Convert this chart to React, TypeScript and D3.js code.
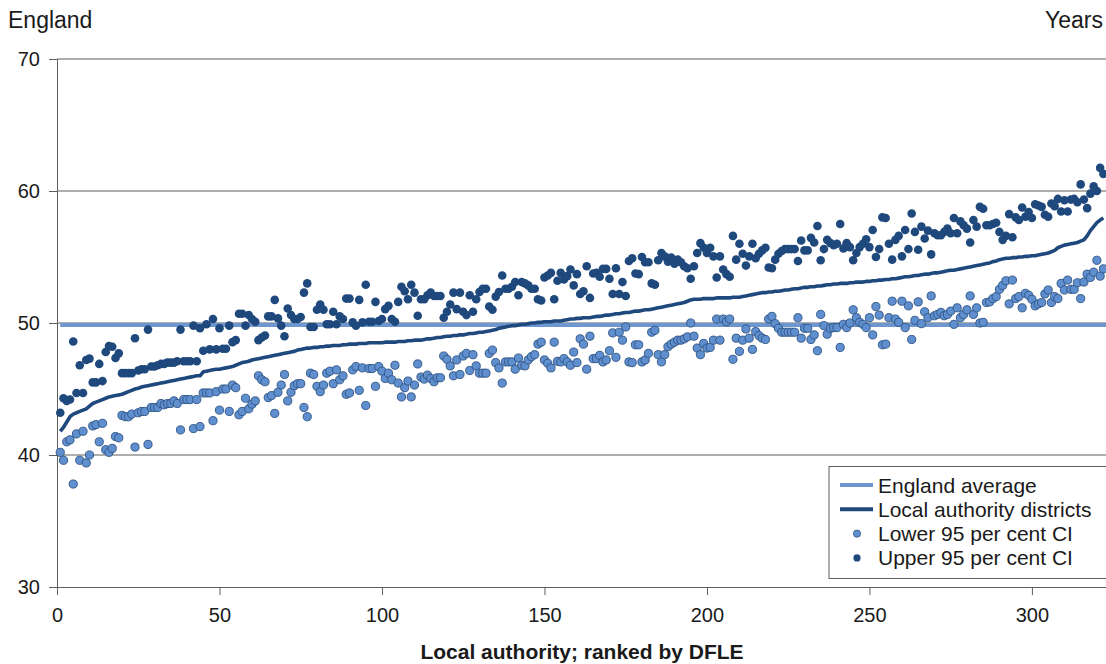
import { useRef, useEffect } from "react";
import * as d3 from "d3";

// DFLE by local authority, ranked
const districts: number[] = [
  41.8, 42.1, 42.5, 42.9, 43.1, 43.2, 43.3, 43.4, 43.5, 43.7,
  43.9, 44.0, 44.1, 44.2, 44.3, 44.4, 44.45, 44.5, 44.55, 44.6,
  44.7, 44.8, 44.9, 45.0, 45.05, 45.15, 45.2, 45.25, 45.3, 45.35,
  45.4, 45.45, 45.5, 45.55, 45.6, 45.65, 45.7, 45.75, 45.8, 45.85,
  45.9, 45.95, 46.0, 46.0, 46.3, 46.35, 46.4, 46.45, 46.5, 46.5,
  46.55, 46.6, 46.65, 46.7, 46.8, 46.9, 47.0, 47.05, 47.1, 47.2,
  47.25, 47.3, 47.35, 47.4, 47.45, 47.5, 47.55, 47.6, 47.65, 47.7,
  47.75, 47.8, 47.85, 47.95, 48.0, 48.05, 48.1, 48.1, 48.15, 48.15,
  48.2, 48.2, 48.25, 48.25, 48.3, 48.3, 48.3, 48.35, 48.35, 48.4,
  48.4, 48.4, 48.45, 48.45, 48.45, 48.5, 48.5, 48.5, 48.5, 48.5,
  48.55, 48.55, 48.55, 48.55, 48.6, 48.6, 48.6, 48.65, 48.65, 48.7,
  48.7, 48.7, 48.75, 48.8, 48.8, 48.85, 48.9, 48.9, 48.95, 49.0,
  49.0, 49.05, 49.05, 49.1, 49.1, 49.15, 49.2, 49.2, 49.25, 49.3,
  49.3, 49.35, 49.4, 49.45, 49.5, 49.6, 49.65, 49.7, 49.75, 49.8,
  49.8, 49.85, 49.9, 49.9, 49.95, 50.0, 50.0, 50.05, 50.05, 50.1,
  50.1, 50.1, 50.15, 50.15, 50.15, 50.2, 50.25, 50.3, 50.3, 50.35,
  50.35, 50.4, 50.4, 50.4, 50.45, 50.5, 50.5, 50.55, 50.6, 50.6,
  50.65, 50.7, 50.7, 50.75, 50.8, 50.8, 50.85, 50.9, 50.9, 50.95,
  51.0, 51.0, 51.05, 51.1, 51.15, 51.2, 51.25, 51.3, 51.35, 51.4,
  51.45, 51.5, 51.55, 51.65, 51.75, 51.8, 51.8, 51.8, 51.85, 51.85,
  51.85, 51.85, 51.9, 51.9, 51.9, 51.9, 51.9, 51.95, 51.95, 51.95,
  52.0, 52.05, 52.1, 52.15, 52.2, 52.25, 52.3, 52.3, 52.35, 52.35,
  52.4, 52.4, 52.45, 52.5, 52.5, 52.55, 52.6, 52.6, 52.65, 52.7,
  52.7, 52.75, 52.75, 52.8, 52.8, 52.85, 52.9, 52.9, 52.95, 52.95,
  53.0, 53.0, 53.0, 53.05, 53.05, 53.1, 53.1, 53.1, 53.15, 53.15,
  53.2, 53.2, 53.25, 53.25, 53.3, 53.3, 53.35, 53.35, 53.4, 53.45,
  53.5, 53.5, 53.55, 53.6, 53.6, 53.65, 53.7, 53.7, 53.75, 53.8,
  53.8, 53.85, 53.9, 53.95, 54.0, 54.0, 54.05, 54.1, 54.15, 54.2,
  54.25, 54.3, 54.35, 54.4, 54.45, 54.5, 54.55, 54.65, 54.7, 54.8,
  54.85, 54.9, 54.9, 54.95, 54.95, 55.0, 55.0, 55.05, 55.05, 55.1,
  55.1, 55.15, 55.2, 55.25, 55.3, 55.4, 55.5, 55.7, 55.8, 55.9,
  55.95, 56.0, 56.05, 56.1, 56.2, 56.3, 56.6, 57.0, 57.3, 57.6,
  57.8, 57.95,
];

const lowerCI: number[] = [
  40.2, 39.6, 41.0, 41.15, 37.8, 41.6, 39.6, 41.8, 39.4, 40.0,
  42.2, 42.3, 41.0, 42.4, 40.4, 40.2, 40.5, 41.4, 41.3, 43.0,
  42.9, 42.9, 43.1, 40.6, 43.2, 43.3, 43.3, 40.8, 43.6, 43.6,
  43.6, 43.9, 43.8, 43.9, 43.9, 44.1, 43.9, 41.9, 44.2, 44.2,
  44.2, 42.0, 44.2, 42.15, 44.7, 44.7, 44.7, 42.6, 44.8, 43.4,
  45.0, 45.0, 43.3, 45.3, 45.1, 43.05, 43.3, 44.3, 43.5, 43.85,
  44.1, 46.0, 45.7, 45.55, 44.35, 44.5, 43.15, 44.75, 45.3, 46.1,
  44.1, 44.75, 45.25, 45.4, 45.4, 43.6, 42.9, 46.2, 46.1, 45.2,
  44.8, 45.3, 46.2, 46.35, 45.4, 46.45, 45.7, 46.0, 44.6, 44.7,
  46.45, 46.7, 44.9, 46.6, 43.75, 46.55, 46.55, 45.2, 46.7, 46.35,
  45.8, 46.2, 45.7, 46.8, 45.45, 44.4, 45.1, 45.6, 44.4, 45.3,
  46.9, 45.9, 45.75, 46.05, 45.8, 45.55, 45.85, 45.85, 47.5, 47.25,
  46.75, 46.0, 47.2, 46.1, 47.5, 47.7, 46.4, 47.6, 46.75, 46.2,
  46.2, 46.2, 47.7, 47.95, 47.0, 46.6, 45.45, 47.05, 47.05, 47.05,
  46.5, 47.35, 46.8, 46.75, 47.2, 47.45, 47.6, 48.4, 48.55, 47.2,
  46.95, 46.6, 48.55, 47.1, 47.05, 47.3, 47.05, 46.8, 47.8, 47.0,
  48.8, 48.4, 46.5, 49.0, 47.3, 47.3, 47.55, 47.05, 47.2, 47.9,
  49.25, 47.4, 49.3, 48.7, 49.7, 47.05, 47.0, 48.35, 48.35, 47.05,
  47.2, 47.7, 49.3, 49.45, 47.6, 47.05, 47.6, 48.2, 48.4, 48.55,
  48.7, 48.7, 48.8, 48.95, 50.0, 49.0, 48.1, 47.6, 48.45, 48.1,
  48.15, 48.7, 50.3, 48.7, 50.3, 50.1, 50.3, 47.25, 48.85, 47.85,
  48.7, 49.55, 48.85, 48.0, 49.35, 49.05, 48.85, 48.75, 50.3, 50.5,
  49.95, 49.6, 49.3, 49.3, 49.3, 49.3, 49.3, 50.4, 48.85, 49.6,
  49.6, 48.75, 49.1, 47.9, 50.65, 49.8, 49.15, 49.6, 49.65, 49.65,
  48.15, 49.9, 49.65, 50.0, 51.0, 50.4, 50.05, 49.9, 49.65, 50.4,
  49.1, 51.25, 50.6, 48.35, 48.4, 50.4, 51.65, 50.3, 50.05, 51.65,
  49.65, 51.3, 48.75, 50.2, 51.6, 49.95, 50.85, 50.4, 52.05, 50.55,
  50.65, 50.8, 50.55, 50.65, 50.9, 49.9, 51.15, 50.4, 50.65, 51.0,
  52.05, 50.65, 51.15, 50.0, 50.05, 51.55, 51.6, 51.85, 52.0, 52.55,
  52.85, 53.2, 51.45, 53.25, 51.85, 52.0, 51.15, 52.25, 52.1, 51.8,
  51.3, 51.45, 51.55, 52.2, 52.5, 51.55, 52.0, 51.85, 53.0, 52.5,
  53.25, 52.55, 52.55, 53.05, 51.85, 53.1, 53.7, 53.45, 53.85, 54.75,
  53.55, 54.1,
];

const upperCI: number[] = [
  43.2, 44.3, 44.1, 44.2, 48.6, 44.7, 46.8, 44.7, 47.2, 47.3,
  45.5, 45.5, 46.9, 45.6, 47.8, 48.25, 48.2, 47.35, 47.7, 46.2,
  46.2, 46.2, 46.2, 48.85, 46.4, 46.5, 46.5, 49.5, 46.7, 46.7,
  46.8, 46.9, 46.9, 47.0, 47.0, 47.0, 47.1, 49.5, 47.1, 47.1,
  47.1, 49.8, 47.1, 49.6, 47.9, 49.9, 48.0, 50.3, 48.0, 49.6,
  48.05, 48.05, 49.8, 48.55, 48.7, 50.7, 50.7, 49.8, 50.6, 50.3,
  50.1, 48.7, 48.9, 49.05, 50.5, 50.5, 51.75, 50.35, 49.8, 49.0,
  51.1, 50.6, 50.3, 50.3, 50.45, 52.3, 53.0, 49.7, 49.7, 51.0,
  51.4, 51.0, 49.9, 49.9, 50.85, 49.9, 50.5, 50.3, 51.85, 51.85,
  50.05, 49.8, 51.75, 50.05, 52.9, 50.1, 50.1, 51.6, 50.15, 50.3,
  51.05, 51.3, 50.3, 50.1, 51.6, 52.75, 52.4, 51.8, 52.9, 52.3,
  50.55, 51.8, 51.8, 52.1, 52.3, 52.05, 52.05, 52.05, 50.4, 50.85,
  51.4, 52.3, 51.05, 52.3, 50.85, 50.6, 52.1, 50.85, 51.8, 52.35,
  52.6, 52.6, 51.25, 51.0, 52.0, 52.35, 53.6, 52.6, 52.6, 52.75,
  53.1, 52.1, 53.1, 53.0, 52.85, 52.6, 52.6, 51.8, 51.7, 53.45,
  53.6, 53.8, 51.8, 53.2, 53.8, 53.3, 53.55, 54.05, 52.85, 53.7,
  52.2, 52.4, 54.3, 51.9, 53.75, 53.8, 53.5, 54.1, 54.1, 53.35,
  52.2, 54.15, 52.2, 53.1, 52.05, 54.7, 54.9, 53.75, 53.7, 55.0,
  54.6, 54.6, 53.0, 52.9, 54.75, 55.3, 55.05, 54.65, 54.95, 54.5,
  54.8, 54.6, 54.3, 54.15, 53.35, 54.3, 55.3, 56.05, 55.7, 55.3,
  55.7, 55.05, 53.45, 55.05, 54.05, 53.7, 53.5, 56.6, 54.8, 56.0,
  55.25, 54.35, 55.05, 56.0, 54.9, 55.25, 55.5, 55.7, 54.2, 54.15,
  54.8, 55.25, 55.45, 55.6, 55.6, 55.6, 55.6, 54.7, 56.25, 55.5,
  55.5, 56.45, 56.1, 57.35, 54.75, 55.6, 56.3, 56.05, 55.9, 56.0,
  57.5, 55.65, 56.05, 55.75, 54.75, 55.3, 55.75, 56.0, 56.35, 55.75,
  57.05, 55.0, 55.6, 58.0, 57.95, 56.0, 54.8, 56.3, 56.6, 55.05,
  57.05, 55.6, 58.3, 56.9, 55.55, 57.3, 56.4, 57.0, 55.2, 56.8,
  56.65, 56.65, 56.9, 57.15, 56.8, 57.95, 56.8, 57.7, 57.4, 57.15,
  56.1, 57.8, 57.3, 58.8, 58.65, 57.4, 57.4, 57.5, 57.6, 56.9,
  56.3, 56.6, 58.25, 56.5, 58.0, 57.8, 58.75, 58.05, 58.4, 57.95,
  59.0, 58.9, 58.8, 58.2, 58.05, 59.05, 58.85, 59.4, 58.45, 59.3,
  58.45, 59.35, 59.4, 59.15, 60.5, 59.35, 58.7, 59.8, 60.35, 60.0,
  61.75, 61.3,
];

const englandAverage = 49.85;
const yTicks = [30, 40, 50, 60, 70];
const xTicks = [0, 50, 100, 150, 200, 250, 300];
const gridValues = [40, 50, 60, 70];

const LEGEND = [
  { label: "England average", kind: "line", color: "#6f97cf" },
  { label: "Local authority districts", kind: "line", color: "#1f497d" },
  { label: "Lower 95 per cent CI", kind: "dot", color: "#5f8fcf" },
  { label: "Upper 95 per cent CI", kind: "dot", color: "#1f497d" },
];

const FONT = "'Liberation Sans', Arial, sans-serif";

export default function App() {
  const svgRef = useRef<SVGSVGElement>(null);

  useEffect(() => {
    const W = 1106;
    const H = 664;
    const m = { top: 59, right: 0, bottom: 76, left: 57 };

    const root = d3.select(svgRef.current);
    root.selectAll("*").remove();
    root.attr("width", W).attr("height", H);

    const x = d3.scaleLinear().domain([0, 322.8]).range([m.left, W - m.right]);
    const y = d3.scaleLinear().domain([30, 70]).range([H - m.bottom - 1, m.top]);

    root.append("rect").attr("width", W).attr("height", H).attr("fill", "#fff");

    // Grid
    root
      .append("g")
      .selectAll("line")
      .data(gridValues)
      .join("line")
      .attr("x1", m.left).attr("x2", W)
      .attr("y1", (d) => y(d)).attr("y2", (d) => y(d))
      .attr("stroke", "#5e5e5e").attr("stroke-width", 1);

    // Axes
    root
      .append("g")
      .attr("transform", `translate(${m.left},0)`)
      .call(d3.axisLeft(y).tickValues(yTicks).tickSize(8).tickPadding(9))
      .call((g) => {
        g.select(".domain").attr("stroke", "#5e5e5e");
        g.selectAll("line").attr("stroke", "#5e5e5e");
        g.selectAll("text").attr("fill", "#1a1a1a").attr("font-size", "20px").attr("font-family", FONT);
      });

    root
      .append("g")
      .attr("transform", `translate(0,${y(30)})`)
      .call(d3.axisBottom(x).tickValues(xTicks).tickSize(8).tickPadding(13))
      .call((g) => {
        g.select(".domain").attr("stroke", "#5e5e5e");
        g.selectAll("line").attr("stroke", "#5e5e5e");
        g.selectAll("text").attr("fill", "#1a1a1a").attr("font-size", "20px").attr("font-family", FONT);
      });

    // England average
    root
      .append("line")
      .attr("x1", x(1)).attr("x2", W)
      .attr("y1", y(englandAverage)).attr("y2", y(englandAverage))
      .attr("stroke", "#6f97cf").attr("stroke-width", 4);

    // Ranked districts line
    const line = d3.line<number>().x((_, i) => x(i + 1)).y((d) => y(d));
    root
      .append("path")
      .datum(districts)
      .attr("fill", "none")
      .attr("stroke", "#1f497d")
      .attr("stroke-width", 3.6)
      .attr("stroke-linejoin", "round")
      .attr("d", line);

    // CI points
    root
      .append("g")
      .selectAll("circle")
      .data(lowerCI)
      .join("circle")
      .attr("cx", (_, i) => x(i + 1))
      .attr("cy", (d) => y(d))
      .attr("r", 4.1)
      .attr("fill", "#5f8fcf")
      .attr("stroke", "#2c5282")
      .attr("stroke-width", 0.9);

    root
      .append("g")
      .selectAll("circle")
      .data(upperCI)
      .join("circle")
      .attr("cx", (_, i) => x(i + 1))
      .attr("cy", (d) => y(d))
      .attr("r", 4.3)
      .attr("fill", "#1f497d");

    // Legend
    const lg = root.append("g").attr("transform", "translate(829,466.5)");
    lg.append("rect")
      .attr("width", 300).attr("height", 112)
      .attr("fill", "#fff").attr("stroke", "#5e5e5e").attr("stroke-width", 1);
    LEGEND.forEach((it, i) => {
      const cy = 18.5 + i * 24.3;
      if (it.kind === "line") {
        lg.append("line")
          .attr("x1", 11).attr("x2", 44)
          .attr("y1", cy).attr("y2", cy)
          .attr("stroke", it.color).attr("stroke-width", 4);
      } else {
        lg.append("circle")
          .attr("cx", 28).attr("cy", cy).attr("r", 3.6)
          .attr("fill", it.color)
          .attr("stroke", i === 2 ? "#2c5282" : "none").attr("stroke-width", 0.8);
      }
      lg.append("text")
        .attr("x", 49).attr("y", cy + 7.5)
        .attr("font-family", FONT).attr("font-size", "21px").attr("fill", "#1a1a1a")
        .text(it.label);
    });

    // Titles
    root.append("text")
      .attr("x", 8).attr("y", 28)
      .attr("font-family", FONT).attr("font-size", "23px").attr("fill", "#1a1a1a")
      .text("England");
    root.append("text")
      .attr("x", 1103).attr("y", 28).attr("text-anchor", "end")
      .attr("font-family", FONT).attr("font-size", "23px").attr("fill", "#1a1a1a")
      .text("Years");
    root.append("text")
      .attr("x", 582).attr("y", 659).attr("text-anchor", "middle")
      .attr("font-family", FONT).attr("font-size", "21px").attr("font-weight", "bold").attr("fill", "#1a1a1a")
      .text("Local authority; ranked by DFLE");
  }, []);

  return (
    <div style={{ position: "absolute", left: 0, top: 0 }}>
      <svg ref={svgRef} style={{ display: "block" }} />
    </div>
  );
}
